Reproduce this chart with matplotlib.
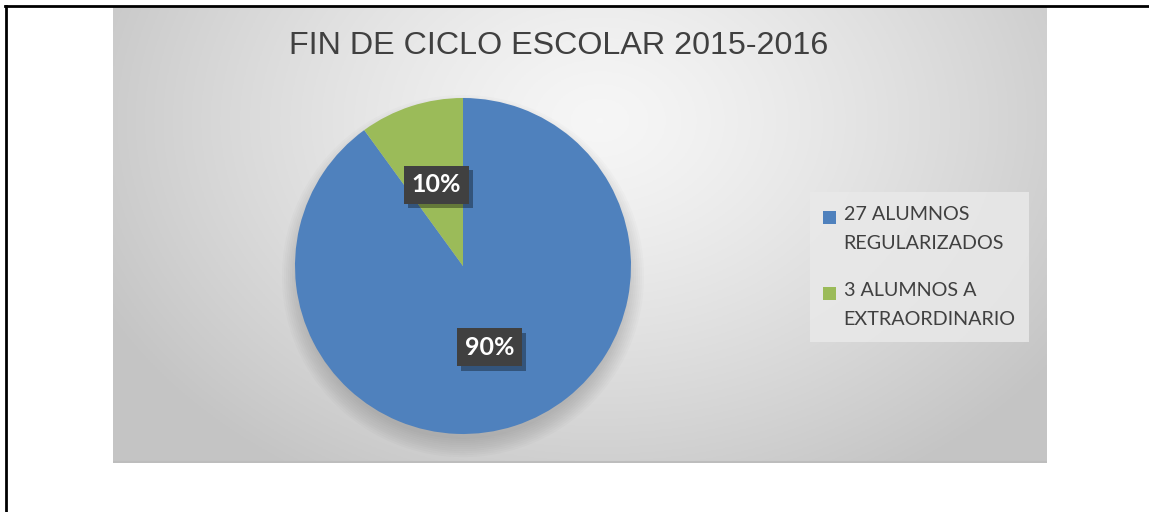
import numpy as np
import matplotlib
matplotlib.use("Agg")
import matplotlib.pyplot as plt
import matplotlib.patheffects as pe
from matplotlib.lines import Line2D
from matplotlib.patches import Circle, Patch

title = "FIN DE CICLO ESCOLAR 2015-2016"
categories = ["27 ALUMNOS\nREGULARIZADOS", "3 ALUMNOS A\nEXTRAORDINARIO"]
values = [27, 3]
colors = ["#4F81BD", "#9BBB59"]

W, H = 1149, 512
fig = plt.figure(figsize=(W / 100, H / 100), dpi=100)
fig.patch.set_facecolor("white")

def fx(px):
    return px / W

def fy(py):
    return 1 - py / H

# gray radial-gradient panel
px0, px1, py0, py1 = 113, 1047, 7, 463
bg = fig.add_axes([fx(px0), fy(py1), fx(px1 - px0), (py1 - py0) / H], zorder=0)
gx = np.linspace(px0, px1, 400)
gy = np.linspace(py0, py1, 200)
X, Y = np.meshgrid(gx, gy)
d = np.sqrt(((X - 600) / 560.0) ** 2 + ((Y - 120) / 420.0) ** 2)
d = np.clip(d, 0, 1)
light, dark = 0.965, 0.77
img = light - (light - dark) * d ** 1.3
bg.imshow(np.dstack([img, img, img]), aspect="auto", extent=[0, 1, 0, 1], origin="upper")
bg.plot([0, 1], [0.002, 0.002], color="#bdbdbd", lw=1.5, transform=bg.transAxes)
bg.set_axis_off()

# pie
cx, cy, r = 463, 266, 168
ax = fig.add_axes([fx(cx - r), fy(cy + r), 2 * r / W, 2 * r / H], zorder=2)
ax.patch.set_alpha(0)
for k in range(10):
    ax.add_patch(Circle((0, -0.06), 0.97 + 0.012 * k, color="black", alpha=0.014,
                        lw=0, zorder=0, clip_on=False))
wedges, texts, autotexts = ax.pie(
    values, colors=colors, startangle=90, counterclock=False,
    autopct="%1.0f%%", pctdistance=0.51,
    wedgeprops=dict(linewidth=0, zorder=2),
    textprops=dict(color="white", fontsize=18, fontweight="bold", family=["Lato", "DejaVu Sans"]),
)
for t in autotexts:
    t.set_zorder(5)
    t.set_bbox(dict(boxstyle="square,pad=0.3", fc="#404040", ec="none"))
    t.get_bbox_patch().set_path_effects([
        pe.SimplePatchShadow(offset=(3, -3), shadow_rgbFace="black", alpha=0.35),
        pe.Normal(),
    ])
ax.set_xlim(-1, 1)
ax.set_ylim(-1, 1)
ax.set_aspect("equal")
ax.set_axis_off()

# title
fig.text(fx(559), fy(46), title, ha="center", va="center", fontsize=23.2,
         color="#404040", family=["Liberation Sans", "DejaVu Sans"], zorder=3)

# legend
handles = [Patch(facecolor=c, edgecolor="none") for c in colors]
leg = fig.legend(handles, categories, loc="upper left",
                 bbox_to_anchor=(fx(810), fy(192)), frameon=True,
                 fancybox=False, facecolor="#e9e9e9", edgecolor="none", framealpha=0.85,
                 handlelength=0.5, handleheight=0.5, handletextpad=0.5,
                 labelspacing=1.55, borderpad=0.7, borderaxespad=0,
                 prop=dict(family=["Lato", "DejaVu Sans"], size=14.2))
for t in leg.get_texts():
    t.set_color("#404040")
    t.set_linespacing(1.85)
for h in leg.legend_handles:
    h.set_height(9.3)
    h.set_width(9.3)
    h.set_x(h.get_x() - 0.6)
    h.set_y(h.get_y() + 7.6)

# outer border lines
fig.add_artist(Line2D([fx(5), fx(1149)], [fy(5.5), fy(5.5)], color="black", lw=2.0, zorder=10))
fig.add_artist(Line2D([fx(6), fx(6)], [fy(5.5), fy(512)], color="black", lw=2.0, zorder=10))

fig.savefig("out.png", dpi=100)
